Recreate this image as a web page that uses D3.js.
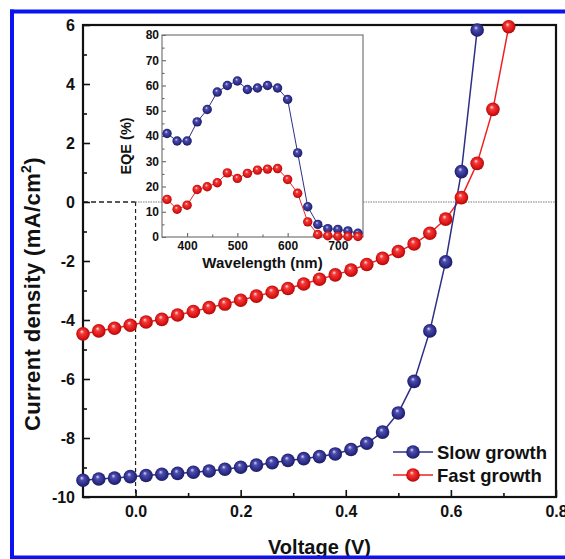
<!DOCTYPE html>
<html>
<head>
<meta charset="utf-8">
<script src="https://cdn.jsdelivr.net/npm/d3@7"></script>
<style>
  html, body { margin: 0; padding: 0; background: #fff; }
  svg { display: block; }
  text { font-family: Arial, "Liberation Sans", sans-serif; font-weight: bold; fill: #111; }
</style>
</head>
<body>
<svg id="chart" width="565" height="559"></svg>
<script>
// ---- main J-V data ----
const voltages = [-0.10,-0.07,-0.04,-0.01,0.02,0.05,0.08,0.11,0.14,0.17,0.20,0.23,0.26,0.29,0.32,0.35,0.38,0.41,0.44,0.47,0.50,0.53,0.56,0.59,0.62,0.65,0.68,0.71];
const slowGrowth = [-9.43,-9.39,-9.36,-9.31,-9.27,-9.23,-9.20,-9.16,-9.12,-9.06,-8.99,-8.92,-8.84,-8.76,-8.70,-8.63,-8.54,-8.39,-8.18,-7.80,-7.15,-6.08,-4.37,-2.03,1.03,5.83];
const fastGrowth = [-4.47,-4.37,-4.28,-4.18,-4.07,-3.98,-3.83,-3.71,-3.58,-3.46,-3.33,-3.19,-3.06,-2.93,-2.78,-2.62,-2.47,-2.31,-2.12,-1.91,-1.68,-1.42,-1.06,-0.58,0.15,1.31,3.14,5.94];
const xTicks = [0.0,0.2,0.4,0.6,0.8];
const xMinorTicks = [0.1,0.3,0.5,0.7];
const yTicks = [-10,-8,-6,-4,-2,0,2,4,6];
const yMinorTicks = [-9,-7,-5,-3,-1,1,3,5];
const seriesNames = ["Slow growth","Fast growth"];

// ---- inset EQE data ----
const wavelengths = [360,380,400,420,440,460,480,500,520,540,560,580,600,620,640,660,680,700,720,740];
const eqeSlow = [41,38,38,45.6,50.5,57.4,60,61.8,58.4,59,60,59,54.5,33.3,12,5,3.3,3,2.4,1.5];
const eqeFast = [14.9,11,12.6,18.8,19.9,21.5,25.4,23.2,25.2,26.5,26.9,27.1,22.8,17.3,6,1,0.5,0.3,0.2,0.2];
const insetXTicks = [400,500,600,700];
const insetXMinor = [450,550,650];
const insetYTicks = [0,10,20,30,40,50,60,70,80];
const insetYMinor = [5,15,25,35,45,55,65,75];

const svg = d3.select("#chart");
const defs = svg.append("defs");
function ballGrad(id, c0, c1, c2, c3) {
  const g = defs.append("radialGradient").attr("id", id)
    .attr("cx", "50%").attr("cy", "50%").attr("r", "55%")
    .attr("fx", "40%").attr("fy", "32%");
  g.append("stop").attr("offset", "0%").attr("stop-color", c0);
  g.append("stop").attr("offset", "28%").attr("stop-color", c1);
  g.append("stop").attr("offset", "70%").attr("stop-color", c2);
  g.append("stop").attr("offset", "100%").attr("stop-color", c3);
}
ballGrad("gBlue", "#d8d8f4", "#4c4cae", "#2b2b88", "#171752");
ballGrad("gRed", "#ffe0e0", "#f23a3a", "#dd1414", "#9a0606");
const blueLine = "#2e2e86", redLine = "#ee2020";
const hyphen = d => String(d).replace("\u2212", "-");

// ---- main scales ----
const x = d3.scaleLinear().domain([-0.1, 0.8]).range([83, 556]);
const y = d3.scaleLinear().domain([-10, 6]).range([497, 25]);

// zero reference lines
svg.append("line").attr("x1", x(-0.1)).attr("x2", x(0)).attr("y1", y(0)).attr("y2", y(0))
  .attr("stroke", "#222").attr("stroke-width", 1.3).attr("stroke-dasharray", "5,3");
svg.append("line").attr("x1", x(0)).attr("x2", x(0)).attr("y1", y(0)).attr("y2", y(-10))
  .attr("stroke", "#222").attr("stroke-width", 1.2).attr("stroke-dasharray", "4,3");
svg.append("line").attr("x1", x(0)).attr("x2", x(0.8)).attr("y1", y(0)).attr("y2", y(0))
  .attr("stroke", "#777").attr("stroke-width", 1).attr("stroke-dasharray", "1.5,1");

// axes
const axisFont = g => g.selectAll("text").style("font-size", "16px").style("font-family", "Arial, 'Liberation Sans', sans-serif").style("font-weight", "bold").attr("fill", "#111");
svg.append("g").attr("transform", `translate(0,${y(-10)})`)
  .call(d3.axisBottom(x).tickValues(xTicks).tickFormat(d => d3.format(".1f")(d)).tickSize(-7).tickPadding(9))
  .call(axisFont);
svg.append("g").attr("transform", `translate(0,${y(-10)})`)
  .call(d3.axisBottom(x).tickValues(xMinorTicks).tickFormat("").tickSize(-4));
svg.append("g").attr("transform", `translate(${x(-0.1)},0)`)
  .call(d3.axisLeft(y).tickValues(yTicks).tickFormat(d => hyphen(d)).tickSize(-7).tickPadding(8))
  .call(axisFont);
svg.append("g").attr("transform", `translate(${x(-0.1)},0)`)
  .call(d3.axisLeft(y).tickValues(yMinorTicks).tickFormat("").tickSize(-4));
svg.selectAll(".domain").remove();
svg.selectAll(".tick line").attr("stroke", "#111").attr("stroke-width", 1.6);

// frame
svg.append("rect").attr("x", x(-0.1)).attr("y", y(6)).attr("width", x(0.8) - x(-0.1)).attr("height", y(-10) - y(6))
  .attr("fill", "none").attr("stroke", "#111").attr("stroke-width", 2.2);

// axis titles
svg.append("text").attr("x", (x(-0.1) + x(0.8)) / 2).attr("y", 554).attr("text-anchor", "middle")
  .style("font-size", "20px").text("Voltage (V)");
const yl = svg.append("text").attr("transform", `translate(40,294) rotate(-90)`).attr("text-anchor", "middle")
  .style("font-size", "22px").style("letter-spacing", "0.4px");
yl.append("tspan").text("Current density (mA/cm");
yl.append("tspan").attr("dy", -9).style("font-size", "14px").text("2");
yl.append("tspan").attr("dy", 9).text(")");

// series
const line = d3.line().x(d => x(d[0])).y(d => y(d[1]));
const slowPts = slowGrowth.map((v, i) => [voltages[i], v]);
const fastPts = fastGrowth.map((v, i) => [voltages[i], v]);
svg.append("path").datum(fastPts).attr("d", line).attr("fill", "none").attr("stroke", redLine).attr("stroke-width", 1.5);
svg.append("path").datum(slowPts).attr("d", line).attr("fill", "none").attr("stroke", blueLine).attr("stroke-width", 1.5);
svg.append("g").selectAll("circle").data(fastPts).join("circle")
  .attr("cx", d => x(d[0])).attr("cy", d => y(d[1])).attr("r", 6.8).attr("fill", "url(#gRed)");
svg.append("g").selectAll("circle").data(slowPts).join("circle")
  .attr("cx", d => x(d[0])).attr("cy", d => y(d[1])).attr("r", 6.8).attr("fill", "url(#gBlue)");

// legend
const legend = svg.append("g");
[[seriesNames[0], blueLine, "url(#gBlue)", 452], [seriesNames[1], redLine, "url(#gRed)", 475]].forEach(([name, lc, fill, ly]) => {
  legend.append("line").attr("x1", 393).attr("x2", 433).attr("y1", ly).attr("y2", ly).attr("stroke", lc).attr("stroke-width", 1.5);
  legend.append("circle").attr("cx", 413).attr("cy", ly).attr("r", 6.8).attr("fill", fill);
  legend.append("text").attr("x", 437).attr("y", ly + 6.5).style("font-size", "18.5px").text(name);
});

// ---- inset ----
const ix = d3.scaleLinear().domain([350, 750]).range([162, 363]);
const iy = d3.scaleLinear().domain([0, 80]).range([237, 35]);
const inset = svg.append("g");
inset.append("rect").attr("x", ix(350)).attr("y", iy(80)).attr("width", ix(750) - ix(350)).attr("height", iy(0) - iy(80))
  .attr("fill", "#fff");
const insetFont = g => g.selectAll("text").style("font-size", "12px").style("font-family", "Arial, 'Liberation Sans', sans-serif").style("font-weight", "bold").attr("fill", "#222");
inset.append("g").attr("transform", `translate(0,${iy(0)})`)
  .call(d3.axisBottom(ix).tickValues(insetXTicks).tickFormat(d3.format("d")).tickSize(-4).tickPadding(4)).call(insetFont);
inset.append("g").attr("transform", `translate(0,${iy(0)})`)
  .call(d3.axisBottom(ix).tickValues(insetXMinor).tickFormat("").tickSize(-2.5));
inset.append("g").attr("transform", `translate(${ix(350)},0)`)
  .call(d3.axisLeft(iy).tickValues(insetYTicks).tickFormat(d3.format("d")).tickSize(-4).tickPadding(3)).call(insetFont);
inset.append("g").attr("transform", `translate(${ix(350)},0)`)
  .call(d3.axisLeft(iy).tickValues(insetYMinor).tickFormat("").tickSize(-2.5));
inset.selectAll(".domain").remove();
inset.selectAll(".tick line").attr("stroke", "#555").attr("stroke-width", 1);
inset.append("rect").attr("x", ix(350)).attr("y", iy(80)).attr("width", ix(750) - ix(350)).attr("height", iy(0) - iy(80))
  .attr("fill", "none").attr("stroke", "#777").attr("stroke-width", 1.2);
inset.append("text").attr("x", (ix(350) + ix(750)) / 2).attr("y", 268).attr("text-anchor", "middle")
  .style("font-size", "15px").text("Wavelength (nm)");
inset.append("text").attr("transform", `translate(131,146) rotate(-90)`).attr("text-anchor", "middle")
  .style("font-size", "14.5px").text("EQE (%)");

const iline = d3.line().x(d => ix(d[0])).y(d => iy(d[1]));
const iSlow = eqeSlow.map((v, i) => [wavelengths[i], v]);
const iFast = eqeFast.map((v, i) => [wavelengths[i], v]);
inset.append("path").datum(iFast).attr("d", iline).attr("fill", "none").attr("stroke", redLine).attr("stroke-width", 1);
inset.append("path").datum(iSlow).attr("d", iline).attr("fill", "none").attr("stroke", blueLine).attr("stroke-width", 1);
inset.append("g").selectAll("circle").data(iSlow).join("circle")
  .attr("cx", d => ix(d[0])).attr("cy", d => iy(d[1])).attr("r", 4.7).attr("fill", "url(#gBlue)");
inset.append("g").selectAll("circle").data(iFast).join("circle")
  .attr("cx", d => ix(d[0])).attr("cy", d => iy(d[1])).attr("r", 4.7).attr("fill", "url(#gRed)");

// outer blue border (left, top, bottom visible)
const border = svg.append("g").attr("stroke", "#0a14f0").attr("stroke-width", 4);
border.append("line").attr("x1", 12).attr("x2", 12).attr("y1", 9.5).attr("y2", 559);
border.append("line").attr("x1", 10).attr("x2", 565).attr("y1", 11.5).attr("y2", 11.5);
border.append("line").attr("x1", 10).attr("x2", 565).attr("y1", 557.5).attr("y2", 557.5);
</script>
</body>
</html>
